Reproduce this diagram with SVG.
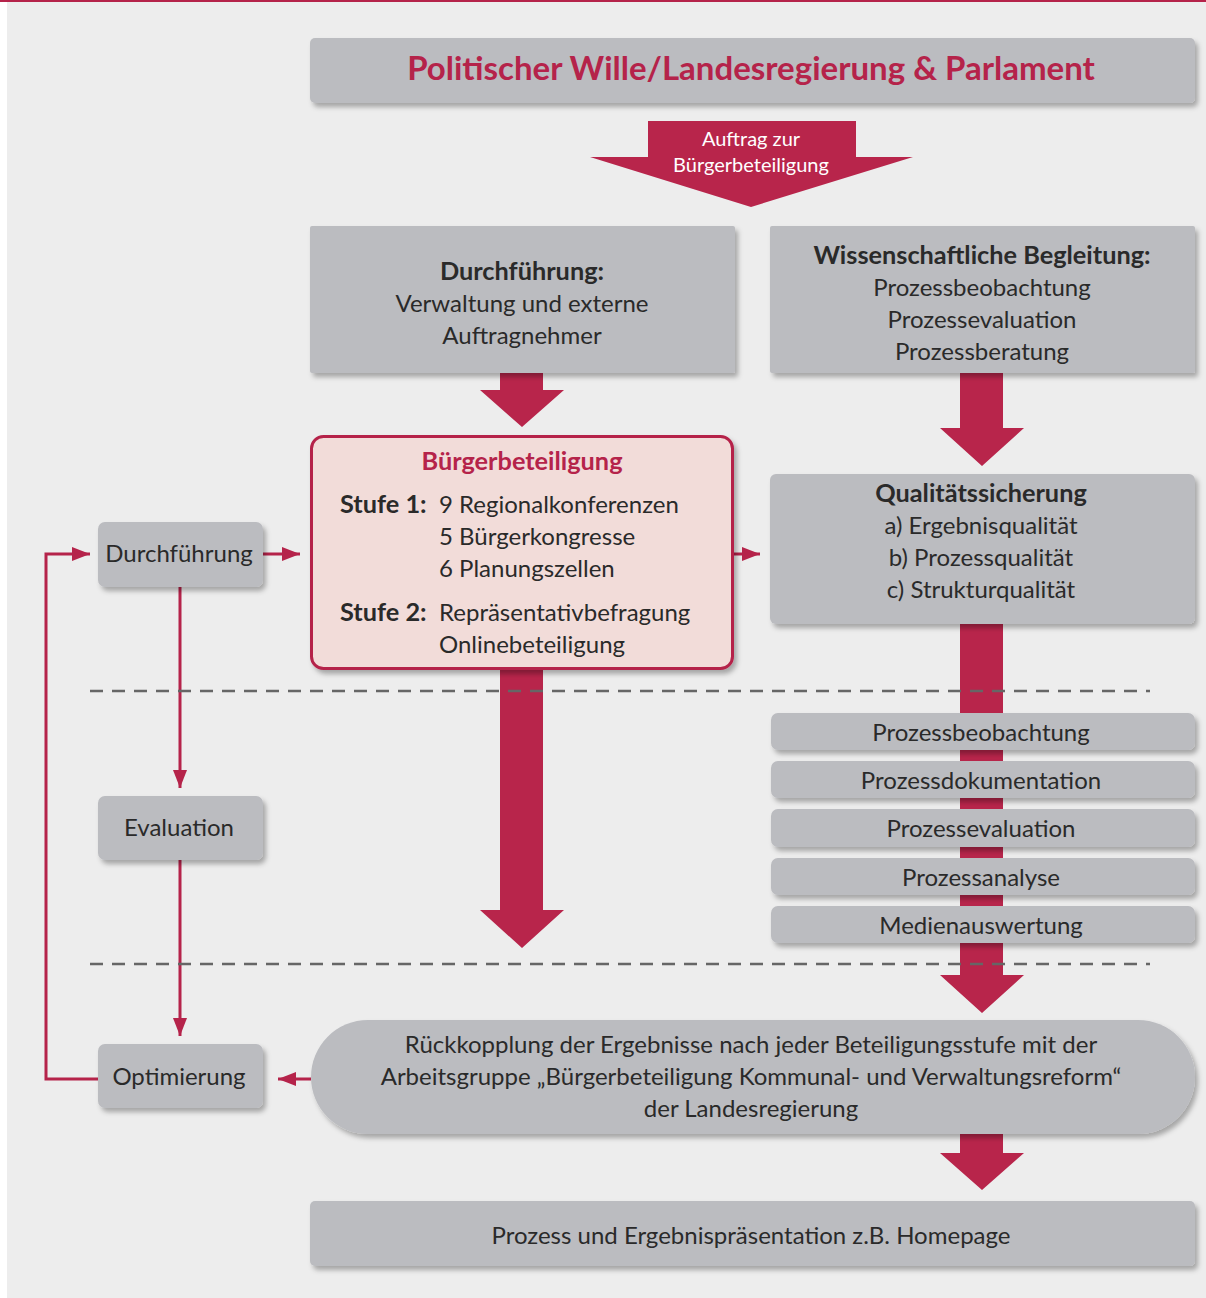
<svg xmlns="http://www.w3.org/2000/svg" width="1206" height="1298" viewBox="0 0 1206 1298">
  <defs>
    <filter id="shadow" x="-10%" y="-20%" width="120%" height="150%">
      <feDropShadow dx="3" dy="4" stdDeviation="2.5" flood-color="#000" flood-opacity="0.3"/>
    </filter>
    <marker id="head" markerUnits="userSpaceOnUse" markerWidth="18" markerHeight="14" refX="18" refY="7" orient="auto">
      <path d="M0,0 L18,7 L0,14 Z" fill="#b5234a"/>
    </marker>
    <style>
      .box { fill: #bbbcc0; filter: url(#shadow); }
      .txt { font-family: Lato, "Open Sans", sans-serif; font-size: 24px; fill: #2a2a2a; text-anchor: middle; }
      .b { font-weight: bold; font-size: 25.3px; }
      .red { fill: #b5234a; }
      .big { fill: #b8254b; }
      .thin { fill: none; stroke: #b5234a; stroke-width: 3; marker-end: url(#head); }
      .dash { stroke: #666; stroke-width: 2.5; stroke-dasharray: 13 9; fill: none; }
    </style>
  </defs>

  <!-- page background and top rule -->
  <rect x="0" y="0" width="1206" height="1298" fill="#ffffff"/>
  <rect x="7" y="2" width="1199" height="1296" fill="#ededed"/>
  <rect x="0" y="0" width="1206" height="2" fill="#b5234a"/>

  <!-- connectors -->
  <g id="connectors">
    <g id="auftrag">
      <path class="big" d="M648,121 H856 V157 H913 L751,207 L590,157 H648 Z"/>
      <text class="txt" x="751" y="146" style="font-size:20px;fill:#fff">Auftrag zur</text>
      <text class="txt" x="751" y="172" style="font-size:20px;fill:#fff">Bürgerbeteiligung</text>
    </g>
    <path class="big" d="M500,373 H543 V390 H564 L522,427 L480,390 H500 Z"/>
    <path class="big" d="M960,373 H1003 V428 H1024 L982,466 L940,428 H960 Z"/>
    <path class="big" d="M500,670 H543 V910 H564 L522,948 L480,910 H500 Z"/>
    <path class="big" d="M960,624 H1003 V975 H1024 L982,1013 L940,975 H960 Z"/>
    <path class="big" d="M960,1134 H1003 V1153 H1024 L982,1190 L940,1153 H960 Z"/>

    <path class="thin" d="M263,554 H300"/>
    <path class="thin" d="M733,554 H760"/>
    <path class="thin" d="M180,587 V788"/>
    <path class="thin" d="M180,860 V1036"/>
    <path class="thin" d="M98,1079 H46 V554 H90"/>
    <path class="thin" d="M311,1079 H278"/>
  </g>

  <!-- phase separators -->
  <g id="separators">
    <path class="dash" d="M90,691 H1150"/>
    <path class="dash" d="M90,964 H1150"/>
  </g>

  <g id="politik">
    <rect class="box" x="310" y="38" width="885" height="65" rx="5"/>
    <text class="txt b red" x="751" y="80" style="font-size:33px">Politischer Wille/Landesregierung &amp; Parlament</text>
  </g>

  <g id="durchfuehrung-top">
    <rect class="box" x="310" y="226" width="425" height="147" rx="2"/>
    <text class="txt b" x="522" y="280">Durchführung:</text>
    <text class="txt" x="522" y="312">Verwaltung und externe</text>
    <text class="txt" x="522" y="344">Auftragnehmer</text>
  </g>

  <g id="wissenschaft">
    <rect class="box" x="770" y="226" width="425" height="147" rx="2"/>
    <text class="txt b" x="982" y="264">Wissenschaftliche Begleitung:</text>
    <text class="txt" x="982" y="296">Prozessbeobachtung</text>
    <text class="txt" x="982" y="328">Prozessevaluation</text>
    <text class="txt" x="982" y="360">Prozessberatung</text>
  </g>

  <g id="buergerbeteiligung">
    <rect x="311.5" y="436.5" width="421" height="232" rx="12" fill="#f2dcd9" stroke="#b5234a" stroke-width="3" filter="url(#shadow)"/>
    <text class="txt b red" x="522" y="470">Bürgerbeteiligung</text>
    <text class="txt b" x="340" y="513" style="text-anchor:start">Stufe 1:</text>
    <text class="txt" x="439" y="513" style="text-anchor:start">9 Regionalkonferenzen</text>
    <text class="txt" x="439" y="545" style="text-anchor:start">5 Bürgerkongresse</text>
    <text class="txt" x="439" y="577" style="text-anchor:start">6 Planungszellen</text>
    <text class="txt b" x="340" y="621" style="text-anchor:start">Stufe 2:</text>
    <text class="txt" x="439" y="621" style="text-anchor:start">Repräsentativbefragung</text>
    <text class="txt" x="439" y="653" style="text-anchor:start">Onlinebeteiligung</text>
  </g>

  <g id="qualitaet">
    <rect class="box" x="770" y="474" width="425" height="150" rx="6"/>
    <text class="txt b" x="981" y="502">Qualitätssicherung</text>
    <text class="txt" x="981" y="534">a) Ergebnisqualität</text>
    <text class="txt" x="981" y="566">b) Prozessqualität</text>
    <text class="txt" x="981" y="598">c) Strukturqualität</text>
  </g>

  <g id="durchfuehrung">
    <rect class="box" x="98" y="522" width="165" height="65" rx="7"/>
    <text class="txt" x="179" y="562">Durchführung</text>
  </g>
  <g id="evaluation">
    <rect class="box" x="98" y="796" width="165" height="64" rx="7"/>
    <text class="txt" x="179" y="836">Evaluation</text>
  </g>
  <g id="optimierung">
    <rect class="box" x="98" y="1044" width="165" height="64" rx="7"/>
    <text class="txt" x="179" y="1085">Optimierung</text>
  </g>

  <g id="prozessbeobachtung">
    <rect class="box" x="771" y="713" width="424" height="37" rx="7"/>
    <text class="txt" x="981" y="741">Prozessbeobachtung</text>
  </g>
  <g id="prozessdokumentation">
    <rect class="box" x="771" y="761" width="424" height="37" rx="7"/>
    <text class="txt" x="981" y="789">Prozessdokumentation</text>
  </g>
  <g id="prozessevaluation">
    <rect class="box" x="771" y="809" width="424" height="38" rx="7"/>
    <text class="txt" x="981" y="837">Prozessevaluation</text>
  </g>
  <g id="prozessanalyse">
    <rect class="box" x="771" y="858" width="424" height="37" rx="7"/>
    <text class="txt" x="981" y="886">Prozessanalyse</text>
  </g>
  <g id="medienauswertung">
    <rect class="box" x="771" y="906" width="424" height="37" rx="7"/>
    <text class="txt" x="981" y="934">Medienauswertung</text>
  </g>

  <g id="rueckkopplung">
    <rect class="box" x="311" y="1020" width="884" height="114" rx="57"/>
    <text class="txt" x="751" y="1053">Rückkopplung der Ergebnisse nach jeder Beteiligungsstufe mit der</text>
    <text class="txt" x="751" y="1085">Arbeitsgruppe „Bürgerbeteiligung Kommunal- und Verwaltungsreform“</text>
    <text class="txt" x="751" y="1117">der Landesregierung</text>
  </g>

  <g id="praesentation">
    <rect class="box" x="310" y="1201" width="885" height="65" rx="5"/>
    <text class="txt" x="751" y="1244">Prozess und Ergebnispräsentation z.B. Homepage</text>
  </g>
</svg>
